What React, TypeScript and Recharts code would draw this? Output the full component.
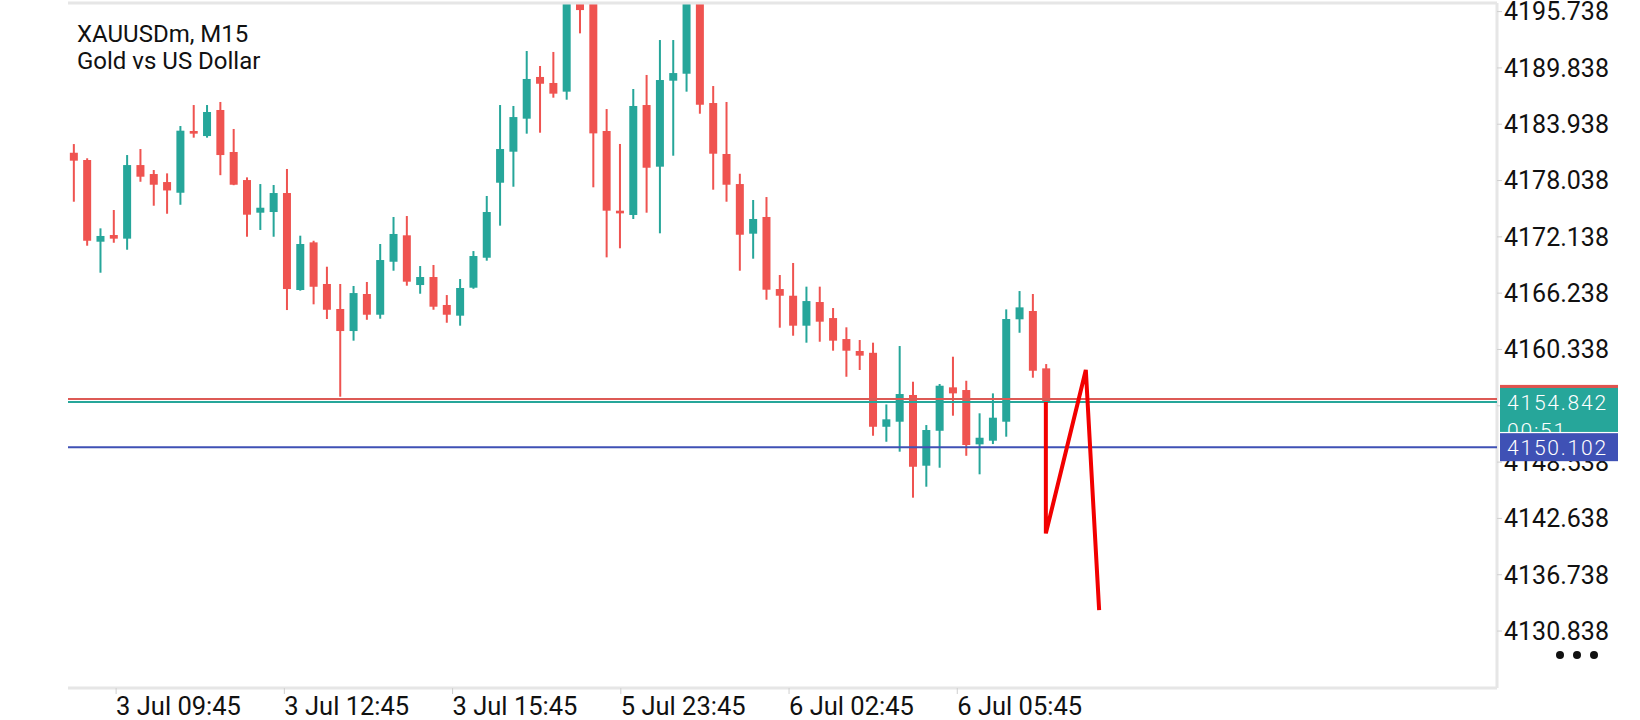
import React from "react";
import { ComposedChart, Bar, Line, XAxis, YAxis, ReferenceLine } from "recharts";

// XAUUSDm M15 candles (index 0 = 3 Jul 09:00)
const opens = [
  4180.95, 4180.19, 4171.63, 4172.33, 4171.95, 4179.66, 4178.72, 4177.88, 4176.76, 4183.23,
  4182.7, 4185.43, 4181.03, 4178.09, 4174.67, 4174.74, 4176.73, 4166.57, 4171.56, 4167.2,
  4164.58, 4162.27, 4166.15, 4163.98, 4169.53, 4172.3, 4167.09, 4167.93, 4165.0, 4163.88,
  4166.81, 4169.95, 4177.81, 4181.06, 4184.52, 4188.89, 4188.26, 4187.35, 4197.8, 4197.2,
  4183.23, 4174.88, 4174.43, 4185.95, 4179.49, 4188.5, 4189.23, 4198.5, 4186.16, 4180.82,
  4177.67, 4172.47, 4174.22, 4166.67, 4165.97, 4162.83, 4165.31, 4163.63, 4161.43, 4160.18,
  4159.99, 4152.24, 4152.77, 4155.57, 4148.16, 4151.82, 4156.37, 4156.09, 4150.4, 4150.78,
  4152.77, 4163.5, 4164.37, 4158.36,
];
const highs = [
  4181.86, 4180.37, 4173.03, 4174.95, 4180.71, 4181.34, 4179.14, 4178.79, 4183.75, 4185.95,
  4185.95, 4186.27, 4183.44, 4178.37, 4177.67, 4177.57, 4179.25, 4172.26, 4171.73, 4169.01,
  4167.2, 4166.99, 4167.41, 4171.39, 4174.22, 4174.32, 4169.08, 4169.19, 4166.04, 4167.72,
  4170.65, 4176.42, 4185.95, 4185.85, 4191.61, 4190.04, 4191.51, 4199.2, 4198.5, 4198.0,
  4185.53, 4181.87, 4187.63, 4189.1, 4192.76, 4192.76, 4199.5, 4199.3, 4187.94, 4186.27,
  4178.75, 4176.0, 4176.31, 4168.14, 4169.4, 4166.92, 4166.92, 4164.68, 4162.66, 4161.33,
  4161.05, 4154.58, 4160.7, 4156.96, 4152.42, 4156.72, 4159.58, 4157.06, 4153.65, 4155.74,
  4164.54, 4166.46, 4166.15, 4158.81,
];
const lows = [
  4175.82, 4171.21, 4168.38, 4171.52, 4170.79, 4177.91, 4175.4, 4174.56, 4175.5, 4182.53,
  4182.53, 4178.6, 4177.55, 4172.15, 4172.86, 4172.15, 4164.47, 4166.5, 4165.07, 4163.53,
  4155.39, 4161.26, 4163.45, 4163.56, 4168.59, 4167.02, 4166.18, 4164.5, 4163.14, 4162.83,
  4166.7, 4169.64, 4173.31, 4177.39, 4182.95, 4183.05, 4186.72, 4186.51, 4193.46, 4177.33,
  4169.99, 4170.94, 4174.01, 4174.67, 4172.51, 4180.64, 4187.35, 4185.04, 4177.08, 4175.82,
  4168.59, 4169.85, 4165.55, 4162.62, 4161.78, 4161.05, 4161.15, 4160.21, 4157.48, 4158.19,
  4151.3, 4150.67, 4149.63, 4144.81, 4145.96, 4147.95, 4153.4, 4149.2, 4147.26, 4150.43,
  4151.2, 4162.09, 4157.38, 4154.75,
];
const closes = [
  4180.12, 4171.73, 4172.23, 4171.95, 4179.66, 4178.44, 4177.6, 4177.0, 4183.26, 4182.95,
  4185.22, 4180.71, 4177.6, 4174.46, 4175.19, 4176.73, 4166.67, 4171.39, 4166.91, 4164.5,
  4162.27, 4166.25, 4163.98, 4169.71, 4172.44, 4167.44, 4167.93, 4164.82, 4163.98, 4166.78,
  4170.13, 4174.74, 4181.34, 4184.69, 4188.68, 4188.18, 4187.14, 4197.6, 4195.9, 4182.98,
  4174.88, 4174.6, 4185.85, 4179.38, 4188.57, 4189.3, 4198.6, 4185.98, 4180.85, 4177.6,
  4172.36, 4174.01, 4166.6, 4165.97, 4162.83, 4165.41, 4163.25, 4161.26, 4160.21, 4159.69,
  4152.24, 4153.02, 4155.67, 4148.05, 4151.9, 4156.54, 4155.74, 4150.33, 4151.09, 4153.19,
  4163.53, 4164.75, 4158.11, 4154.842,
];

// hand-drawn red zigzag (candle index, price)
const zigzagIdx = [73, 73, 76, 77];
const zigzagPrice = [4154.842, 4141.07, 4158.19, 4133.04];

const timeTicks = [3.2, 15.83, 28.46, 41.09, 53.72, 66.35];
const timeLabels = ["3 Jul 09:45", "3 Jul 12:45", "3 Jul 15:45", "5 Jul 23:45", "6 Jul 02:45", "6 Jul 05:45"];
const priceTicks = [
  4195.738, 4189.838, 4183.938, 4178.038, 4172.138, 4166.238,
  4160.338, 4154.438, 4148.538, 4142.638, 4136.738, 4130.838,
];

const bid = 4154.842;
const ask = 4155.16;
const level = 4150.102;
const countdown = "00:51";

const X_DOMAIN = [-0.413, 106.87];
const Y_DOMAIN = [4124.87, 4196.64];

const GREEN = "#26a69a";
const RED = "#ef5350";
const BLUE = "#3f51b5";
const FRAME = "#e6e6e6";
const FONT = "Roboto, sans-serif";

const candles = opens.map((o, i) => ({
  i,
  range: [lows[i], highs[i]],
  open: o,
  close: closes[i],
}));

const zigzag = zigzagIdx.map((i, k) => ({ i, price: zigzagPrice[k] }));

const Candle = (props: any) => {
  let { x, y, width, height } = props;
  const { payload } = props;
  if (height < 0) {
    y += height;
    height = -height;
  }
  const [low, high] = payload.range;
  const { open, close } = payload;
  const cx = x + width / 2;
  const ppu = height / (high - low);
  const top = y + (high - Math.max(open, close)) * ppu;
  const bodyH = Math.max(Math.abs(open - close) * ppu, 2);
  const color = close >= open ? GREEN : RED;
  return (
    <g>
      <rect x={cx - 1} y={y} width={2} height={height} fill={color} />
      <rect x={cx - 4} y={top} width={8} height={bodyH} fill={color} />
    </g>
  );
};

const TimeTick = ({ x, y, index }: any) => (
  <text x={x} y={y + 19} textAnchor="start" fontSize={25.5} fill="#111" fontFamily={FONT}>
    {timeLabels[index]}
  </text>
);

const PriceTag = ({ viewBox, fill, text, sub }: any) => {
  const left = viewBox.x + viewBox.width + 3;
  const top = viewBox.y - 14;
  const h = sub ? 44 : 28;
  return (
    <g>
      <rect x={left} y={top} width={118} height={h} fill={fill} />
      <text x={left + 7} y={viewBox.y + 8} fontSize={21} fontWeight={300} letterSpacing={1.8}
        fill="#fff" fontFamily={FONT}>
        {text}
      </text>
      {sub && (
        <text x={left + 7} y={viewBox.y + 36} fontSize={21} fontWeight={300} letterSpacing={1.8}
          fill="#fff" fontFamily={FONT}>
          {sub}
        </text>
      )}
    </g>
  );
};

export default function App() {
  return (
    <div style={{ position: "relative", width: 1640, height: 720, background: "#fff" }}>
      <style>{`body{margin:0}`}</style>
      <ComposedChart
        width={1640}
        height={720}
        data={candles}
        margin={{ top: 3, right: 0, bottom: 0, left: 68 }}
      >
        <XAxis
          dataKey="i"
          type="number"
          domain={X_DOMAIN}
          allowDataOverflow
          ticks={timeTicks}
          interval={0}
          height={32}
          axisLine={{ stroke: FRAME, strokeWidth: 3 }}
          tickLine={{ stroke: "#cfcfcf" }}
          tickSize={6}
          tick={<TimeTick />}
        />
        <YAxis
          orientation="right"
          type="number"
          domain={Y_DOMAIN}
          allowDataOverflow
          ticks={priceTicks}
          interval={0}
          width={143}
          axisLine={{ stroke: FRAME, strokeWidth: 3 }}
          tickLine={{ stroke: "#cfcfcf" }}
          tickSize={5}
          tickMargin={2}
          tickFormatter={(v: number) => v.toFixed(3)}
          tick={{ fontSize: 25, fill: "#111", fontFamily: FONT }}
        />
        <ReferenceLine y={Y_DOMAIN[1]} stroke={FRAME} strokeWidth={3} />
        <Bar dataKey="range" barSize={8} shape={<Candle />} isAnimationActive={false} />
        <ReferenceLine
          y={ask}
          stroke="#dd5a55"
          strokeWidth={2}
          zIndex={2100}
          label={(p: any) => <PriceTag viewBox={p.viewBox} fill="#e0534e" text="" />}
        />
        <ReferenceLine
          y={bid}
          stroke={GREEN}
          strokeWidth={2}
          zIndex={2200}
          label={(p: any) => <PriceTag viewBox={p.viewBox} fill={GREEN} text={bid.toFixed(3)} sub={countdown} />}
        />
        <ReferenceLine
          y={level}
          stroke={BLUE}
          strokeWidth={2}
          zIndex={2300}
          label={(p: any) => <PriceTag viewBox={p.viewBox} fill={BLUE} text={level.toFixed(3)} />}
        />
        <Line
          data={zigzag}
          dataKey="price"
          type="linear"
          stroke="#f20000"
          strokeWidth={4}
          dot={false}
          activeDot={false}
          zIndex={2400}
          isAnimationActive={false}
        />
      </ComposedChart>
      <svg width={1640} height={720} style={{ position: "absolute", left: 0, top: 0, pointerEvents: "none" }}>
        <text x={77} y={42} fontSize={24} fill="#111" fontFamily={FONT}>XAUUSDm, M15</text>
        <text x={77} y={69} fontSize={24} fill="#111" fontFamily={FONT}>Gold vs US Dollar</text>
        <circle cx={1560} cy={655} r={4} fill="#111" />
        <circle cx={1577} cy={655} r={4} fill="#111" />
        <circle cx={1594} cy={655} r={4} fill="#111" />
      </svg>
    </div>
  );
}
